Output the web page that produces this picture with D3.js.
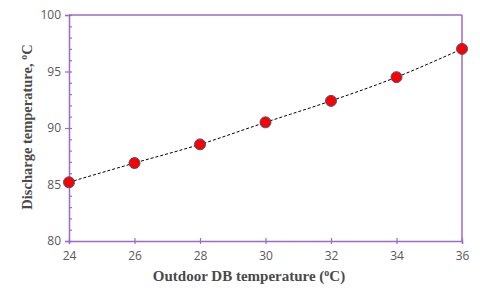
<!DOCTYPE html>
<html><head><meta charset="utf-8">
<script src="https://cdn.jsdelivr.net/npm/d3@7"></script>
<style>body{margin:0;background:#fff}svg{display:block}</style>
</head><body>
<svg id="c" width="480" height="288"></svg>
<script>
const xValues = [24, 26, 28, 30, 32, 34, 36];
const yValues = [85.2, 86.9, 88.55, 90.5, 92.4, 94.5, 97.0];
const xTicks = [24, 26, 28, 30, 32, 34, 36];
const yTicks = [80, 85, 90, 95, 100];
const yMinor = d3.range(80, 101, 1);

const svg = d3.select("#c");
const m = {l: 69, r: 462, t: 15, b: 241};
const x = d3.scaleLinear().domain([24, 36]).range([m.l, m.r]);
const y = d3.scaleLinear().domain([80, 100]).range([m.b, m.t]);
const axisCol = "#9b6bcc";
const textCol = "#595959";

svg.append("line").attr("x1", m.l).attr("x2", m.r).attr("y1", m.t).attr("y2", m.t)
  .attr("stroke", axisCol).attr("stroke-width", 1.5);
svg.append("line").attr("x1", m.r).attr("x2", m.r).attr("y1", m.t).attr("y2", m.b)
  .attr("stroke", axisCol).attr("stroke-width", 1.5);

svg.append("g").attr("transform", `translate(${m.l},0)`)
  .call(d3.axisRight(y).tickValues(yMinor).tickSize(3).tickFormat(""))
  .call(g => g.select(".domain").remove())
  .call(g => g.selectAll("line").attr("stroke", axisCol).attr("stroke-width", 1.2));

svg.append("g").attr("transform", `translate(${m.l},0)`)
  .call(d3.axisLeft(y).tickValues(yTicks).tickSize(4).tickPadding(4))
  .call(g => g.select(".domain").attr("stroke", axisCol).attr("stroke-width", 1.5))
  .call(g => g.selectAll("line").attr("stroke", axisCol).attr("stroke-width", 1.2))
  .call(g => g.selectAll("text").attr("fill", textCol).attr("font-family", "'Open Sans', sans-serif").attr("font-size", "12px"));

svg.append("g").attr("transform", `translate(0,${m.b})`)
  .call(d3.axisBottom(x).tickValues(xTicks).tickSize(3).tickPadding(7))
  .call(g => g.select(".domain").attr("stroke", axisCol).attr("stroke-width", 1.5))
  .call(g => g.selectAll(".tick line").attr("y1", -3).attr("stroke", axisCol).attr("stroke-width", 1.2))
  .call(g => g.selectAll("text").attr("fill", textCol).attr("font-family", "'Open Sans', sans-serif").attr("font-size", "12px"));

svg.append("path").datum(xValues.map((d, i) => [d, yValues[i]]))
  .attr("fill", "none").attr("stroke", "#000").attr("stroke-width", 1)
  .attr("stroke-dasharray", "3,2")
  .attr("d", d3.line().x(d => x(d[0])).y(d => y(d[1])).curve(d3.curveMonotoneX));

svg.append("g").selectAll("circle").data(xValues).join("circle")
  .attr("cx", d => x(d)).attr("cy", (d, i) => y(yValues[i])).attr("r", 5.5)
  .attr("fill", "#ff0000").attr("stroke", "#3d5a80").attr("stroke-width", 1);

const tf = "'Liberation Serif', serif";
const xt = svg.append("text").attr("x", 249).attr("y", 281).attr("text-anchor", "middle")
  .attr("fill", "#4a4a4a").attr("font-family", tf).attr("font-weight", "bold").attr("font-size", "15px");
xt.append("tspan").text("Outdoor DB temperature (");
xt.append("tspan").attr("font-size", "10px").attr("dy", "-5").text("o");
xt.append("tspan").attr("dy", "5").text("C)");

const yt = svg.append("text").attr("transform", `translate(32,127) rotate(-90)`).attr("text-anchor", "middle")
  .attr("fill", "#4a4a4a").attr("font-family", tf).attr("font-weight", "bold").attr("font-size", "14.5px");
yt.append("tspan").text("Discharge temperature, ");
yt.append("tspan").attr("font-size", "10px").attr("dy", "-5").text("o");
yt.append("tspan").attr("dy", "5").text("C");
</script>
</body></html>
